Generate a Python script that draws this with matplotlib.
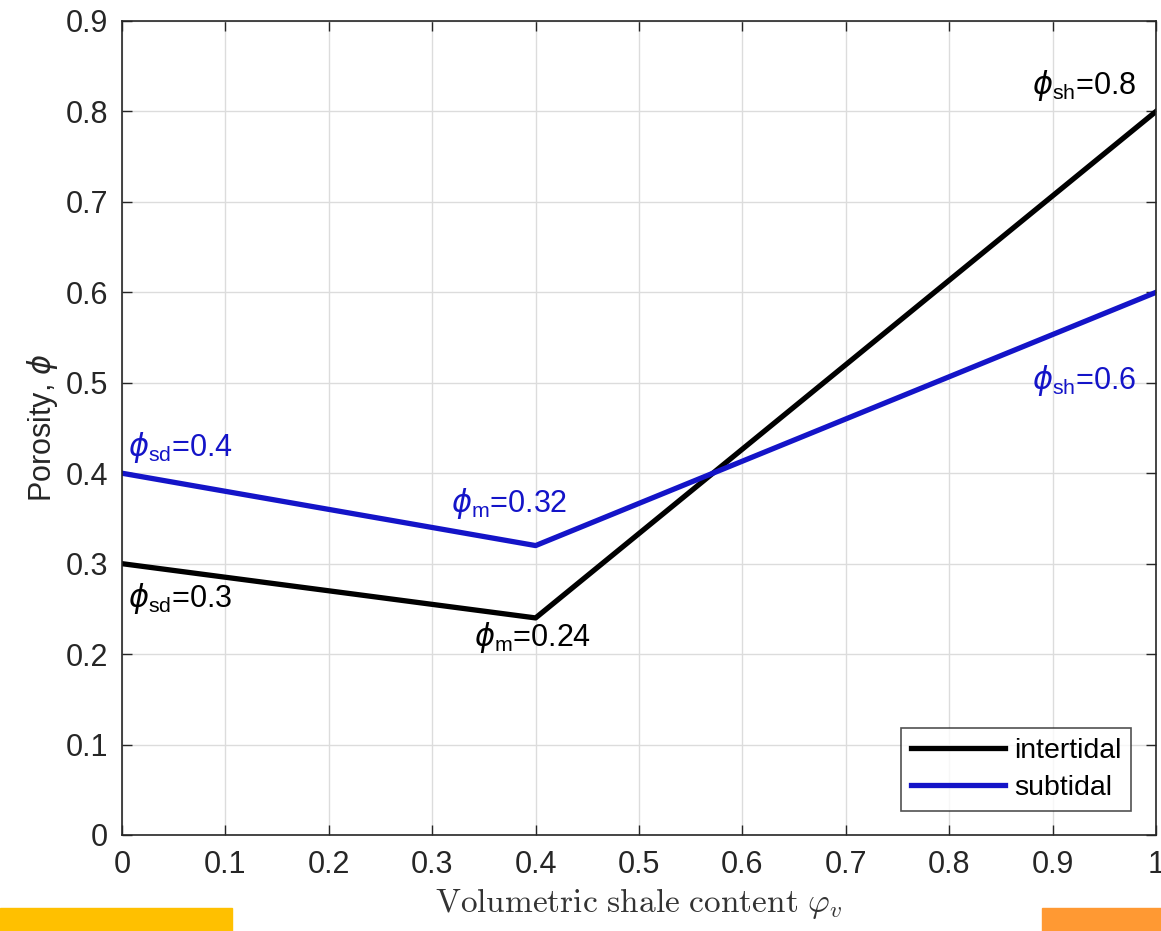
import matplotlib
matplotlib.use("Agg")
import matplotlib.pyplot as plt
from matplotlib.patches import Rectangle

# shale content breakpoints and porosity for each setting
shale = [0, 0.4, 1]
intertidal = [0.3, 0.24, 0.8]
subtidal = [0.4, 0.32, 0.6]

# annotation labels (x, y, text, colour)
labels = [
    (0.880, 0.829, r'$\phi_{\mathrm{sh}}$=0.8', 'black'),
    (0.880, 0.503, r'$\phi_{\mathrm{sh}}$=0.6', '#1414c8'),
    (0.006, 0.428, r'$\phi_{\mathrm{sd}}$=0.4', '#1414c8'),
    (0.318, 0.366, r'$\phi_{\mathrm{m}}$=0.32', '#1414c8'),
    (0.006, 0.262, r'$\phi_{\mathrm{sd}}$=0.3', 'black'),
    (0.340, 0.218, r'$\phi_{\mathrm{m}}$=0.24', 'black'),
]

plt.rcParams['font.family'] = ['Liberation Sans', 'DejaVu Sans']
plt.rcParams['mathtext.fontset'] = 'custom'
plt.rcParams['mathtext.rm'] = 'Liberation Sans'
plt.rcParams['mathtext.it'] = 'DejaVu Sans:italic'

fig = plt.figure(figsize=(11.61, 9.31), dpi=100)
ax = fig.add_axes([122/1161, 1 - 835/931, 1034/1161, 814/931])

ax.plot(shale, intertidal, color='black', linewidth=3.8, label='intertidal')
ax.plot(shale, subtidal, color='#1414c8', linewidth=3.8, label='subtidal')

for x, y, txt, col in labels:
    ax.text(x, y, txt, color=col, fontsize=22, ha='left', va='center')

ax.set_xlim(0, 1)
ax.set_ylim(0, 0.9)
ax.set_xticks([i / 10 for i in range(11)])
ax.set_yticks([i / 10 for i in range(10)])
ax.set_xticklabels(['0', '0.1', '0.2', '0.3', '0.4', '0.5', '0.6', '0.7', '0.8', '0.9', '1'])
ax.set_yticklabels(['0', '0.1', '0.2', '0.3', '0.4', '0.5', '0.6', '0.7', '0.8', '0.9'])
ax.tick_params(direction='in', length=7, width=1, labelsize=22, colors='#262626',
               top=True, right=True)
ax.tick_params(axis='x', pad=11)
ax.tick_params(axis='y', pad=10)
ax.grid(True, color='#dcdcdc', linewidth=1)
for s in ax.spines.values():
    s.set_color('#262626')
    s.set_linewidth(1.2)

ax.set_xlabel(r'$\mathrm{Volumetric\ shale\ content}\ \varphi_v$', fontsize=24,
              math_fontfamily='cm', color='#333333', labelpad=4)
ax.set_ylabel(r'Porosity, $\phi$', fontsize=22, color='#262626', labelpad=4)

leg = ax.legend(loc='lower right', fontsize=20.5, handlelength=3.3, frameon=True,
                fancybox=False, edgecolor='#262626', borderpad=0.35, borderaxespad=0,
                bbox_to_anchor=(0.976, 0.0295), handletextpad=0.3, labelspacing=0.4)
leg.get_frame().set_linewidth(1.2)

# coloured bars along the bottom edge
fig.add_artist(Rectangle((0, 0), 232/1161, 23/931, transform=fig.transFigure,
                         color='#ffc000', zorder=0))
fig.add_artist(Rectangle((1042/1161, 0), 119/1161, 23/931, transform=fig.transFigure,
                         color='#ff9933', zorder=0))

fig.savefig('out.png', dpi=100)
